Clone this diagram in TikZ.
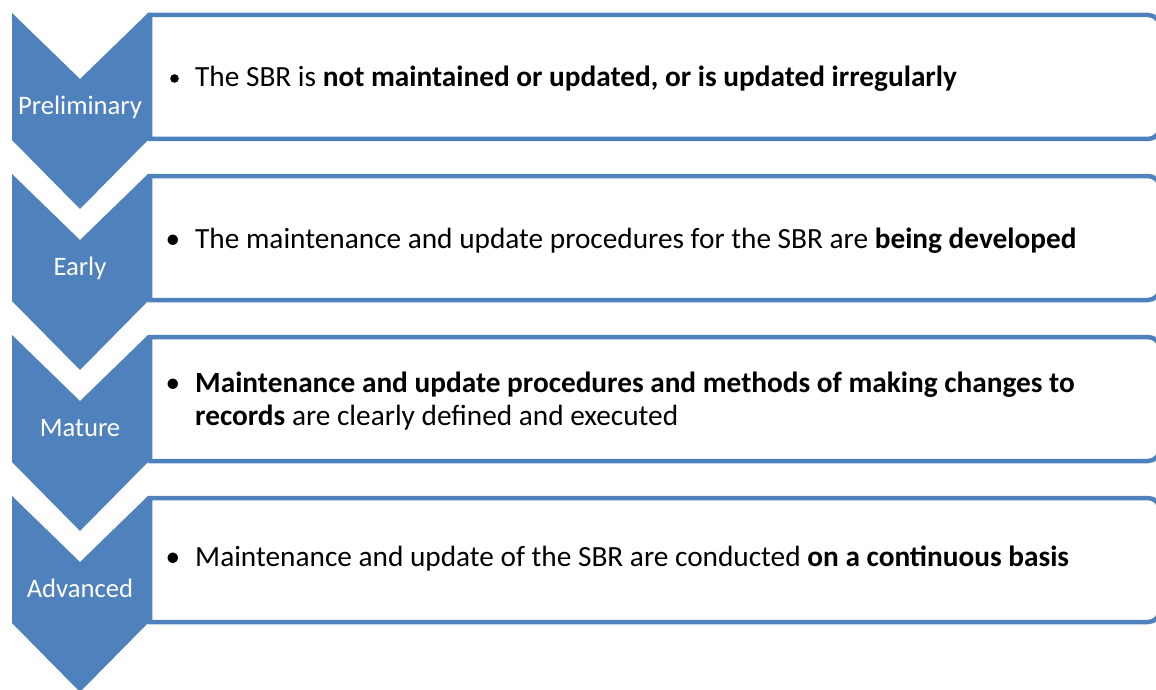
\documentclass[tikz,border=0pt]{standalone}
\usepackage{fontspec}
\setmainfont{Carlito}
\definecolor{acc}{HTML}{4F81BD}
\tikzset{
  stagebox/.style={minimum width=1010pt, minimum height=124pt, inner sep=0pt, outer sep=0pt},
  boxline/.style={draw=acc, line width=4.5pt, fill=white},
  chevlbl/.style={text=white, font=\fontsize{26.67}{32}\selectfont, anchor=base, inner sep=0pt},
  bodytxt/.style={text=black, font=\fontsize{29.3}{35}\selectfont, anchor=base west, inner sep=0pt},
  bul/.style={text=black, font=\fontsize{29.3}{35}\selectfont, anchor=base, inner sep=0pt},
}
\newcommand{\chev}[1]{%
  \fill[acc] (12,#1) -- (80,#1+66) -- (148,#1) -- (148,#1+127) -- (80,#1+196) -- (12,#1+127) -- cycle;
}
\newcommand{\boxoutline}[1]{%
  \filldraw[boxline] (#1.south west) -- (#1.north west) -- ([xshift=-12pt]#1.north east)
    arc[start angle=90, end angle=0, radius=12pt] -- ([yshift=12pt]#1.south east)
    arc[start angle=0, end angle=-90, radius=12pt] -- cycle;
}
\begin{document}
\begin{tikzpicture}[x=1pt,y=-1pt]
\useasboundingbox (0,0) rectangle (1156,690);
\clip (0,0) rectangle (1156,690);
% boxes
\node[stagebox] (b1) at (655,77) {};
\node[stagebox] (b2) at (655,238) {};
\node[stagebox] (b3) at (655,399) {};
\node[stagebox] (b4) at (655,560) {};
\boxoutline{b1}
\boxoutline{b2}
\boxoutline{b3}
\boxoutline{b4}
% chevrons
\chev{13}
\chev{174}
\chev{335}
\chev{496}
\node[chevlbl] (l1) at (80,114) {Preliminary};
\node[chevlbl] (l2) at (80,275) {Early};
\node[chevlbl] (l3) at (80,436) {Mature};
\node[chevlbl] (l4) at (80,597) {Advanced};
% texts
\fill[black] (174.5,78.5) circle (4.3);
\node[bodytxt] (t1) at (195,87) {The SBR is \textbf{not maintained or updated, or is updated irregularly}};
\node[bul] (u2) at (173,248) {•};
\node[bodytxt] (t2) at (195,248) {The maintenance and update procedures for the SBR are \textbf{being developed}};
\node[bul] (u3) at (173,392) {•};
\node[bodytxt] (t3a) at (195,392) {\textbf{Maintenance and update procedures and methods of making changes to}};
\node[bodytxt] (t3b) at (195,425) {\textbf{records} are clearly defined and executed};
\node[bul] (u4) at (173,566) {•};
\node[bodytxt] (t4) at (195,566) {Maintenance and update of the SBR are conducted \textbf{on a continuous basis}};
\end{tikzpicture}
\end{document}
